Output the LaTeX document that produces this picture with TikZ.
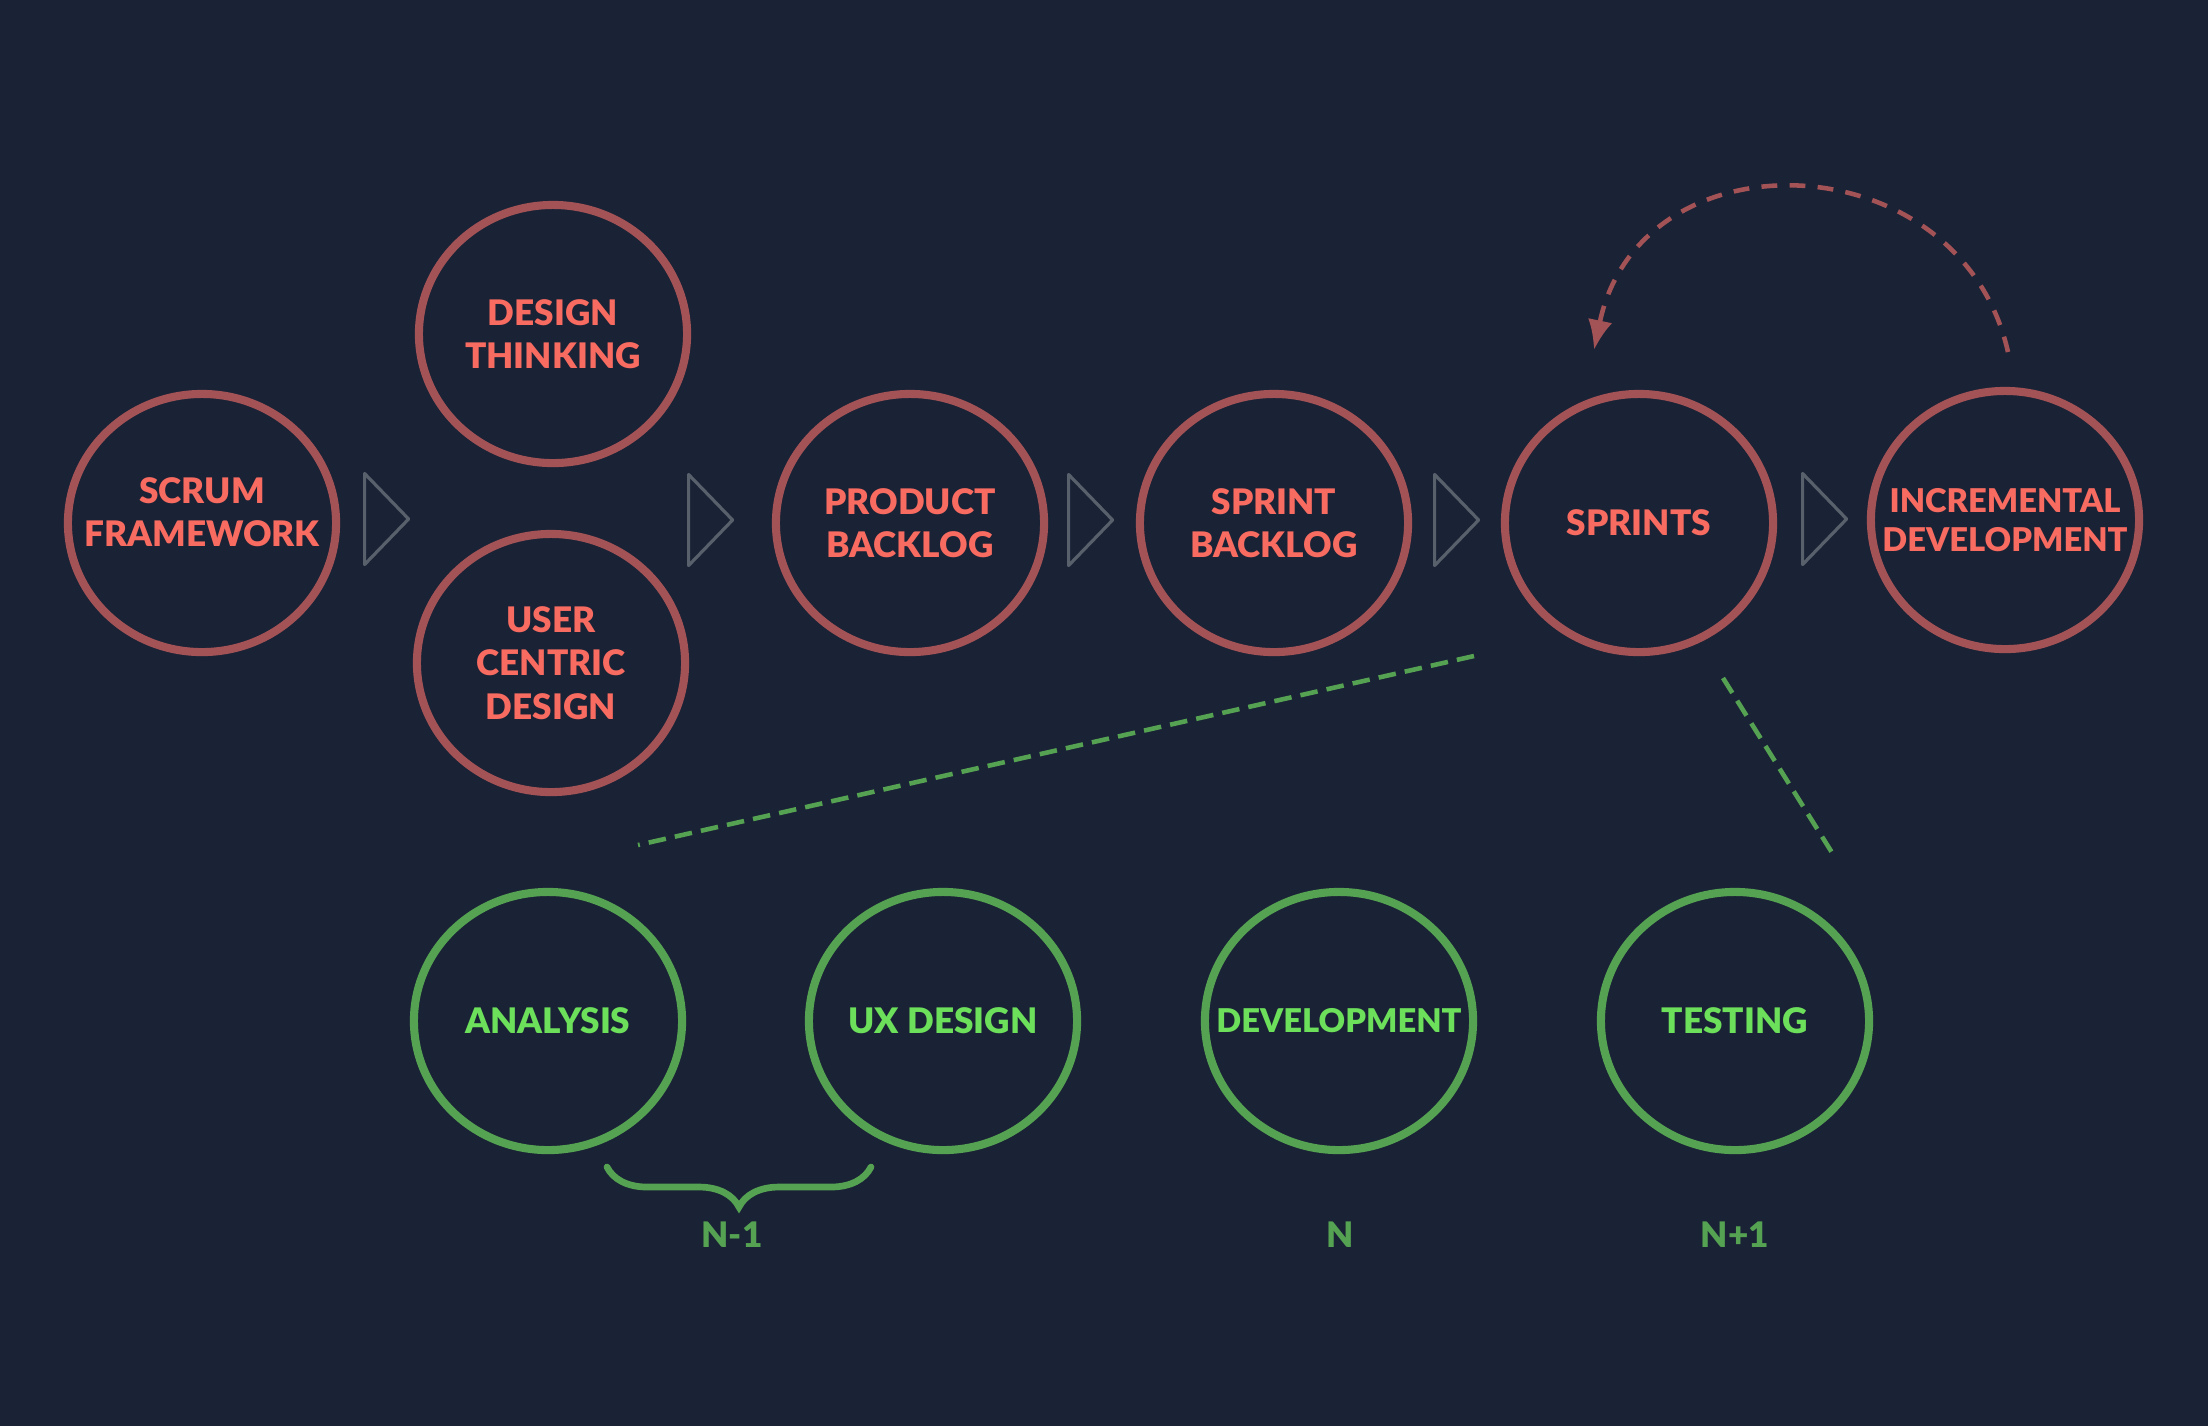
\documentclass[tikz,border=0pt]{standalone}
\usepackage{fontspec}
\setmainfont{Lato}[BoldFont={Lato Black}]
\usepackage{xcolor}
\usetikzlibrary{arrows.meta,positioning,calc,shapes.geometric,decorations.pathreplacing}
\definecolor{night}{HTML}{1A2236}
\definecolor{rosering}{HTML}{A35355}
\definecolor{rosetext}{HTML}{F76B60}
\definecolor{leafring}{HTML}{55A352}
\definecolor{leaftext}{HTML}{6CE05A}
\definecolor{slate}{HTML}{58606C}

\begin{document}
\begin{tikzpicture}[x=0.01cm,y=-0.01cm]
    \tikzset{
      phase/.style={ellipse,draw=rosering,line width=2.3pt,minimum width=2.68cm,minimum height=2.58cm,inner sep=-1cm,align=center,text=rosetext,font=\bfseries\fontsize{10}{12.4}\selectfont},
      task/.style={phase,draw=leafring,text=leaftext},
      chevron/.style={isosceles triangle,isosceles triangle stretches,draw=slate,line width=0.9pt,line join=round,minimum height=0.44cm,minimum width=0.91cm,inner sep=0pt,anchor=west},
      iter/.style={text=leafring,font=\bfseries\fontsize{10}{12}\selectfont},
      zoomline/.style={draw=leafring,line width=1.3pt,dash pattern=on 5pt off 2.6pt},
      loopback/.style={draw=rosering,line width=1.3pt,dash pattern=on 4.5pt off 3.5pt,-{Latex[length=8.5pt,width=7pt]}},
      brace/.style={draw=leafring,line width=1.9pt,line cap=round,decorate,decoration={brace,mirror,amplitude=0.4cm}}
    }
    \fill[night] (0,0) rectangle (2208,1426);
    \node[phase,text depth=0.22cm] (scrum) at (202,523) {SCRUM\\FRAMEWORK};
    \node[phase] (think) at (553,334) {DESIGN\\THINKING};
    \node[phase] (ucd) at (551,663) {USER\\CENTRIC\\DESIGN};
    \node[phase] (product) at (910,523) {PRODUCT\\BACKLOG};
    \node[phase] (sprintlog) at (1274,523) {SPRINT\\BACKLOG};
    \node[phase] (sprints) at (1639,523) {SPRINTS};
    \node[phase,font=\bfseries\fontsize{9.3}{11}\selectfont] (incr) at (2005,520) {INCREMENTAL\\DEVELOPMENT};
    \node[task] (analysis) at (548,1021) {ANALYSIS};
    \node[task] (uxd) at (943,1021) {UX DESIGN};
    \node[task,font=\bfseries\fontsize{9.3}{11}\selectfont] (dev) at (1339,1021) {DEVELOPMENT};
    \node[task] (testing) at (1735,1021) {TESTING};
    \node[chevron] (c1) at (363,519) {};
    \node[chevron] (c2) at (687,520) {};
    \node[chevron] (c3) at (1067,520) {};
    \node[chevron] (c4) at (1433,520) {};
    \node[chevron] (c5) at (1801,519) {};
    \node[iter] (nprev) at (732,1235) {N-1};
    \node[iter] (ncur) at (1340,1235) {N};
    \node[iter] (nnext) at (1735,1235) {N+1};
    \coordinate (loopfrom) at (2008,352);
    \coordinate (loopto) at (1594,350);
    \coordinate (zoomA) at (1474,656);
    \coordinate (zoomB) at (638,845);
    \coordinate (zoomC) at (1723,678);
    \coordinate (zoomD) at (1836,859);
    \coordinate (braceL) at (607,1167);
    \coordinate (braceR) at (871,1167);
    \draw[loopback] (loopfrom) .. controls (1960,140) and (1640,130) .. (loopto);
    \draw[zoomline] (zoomA) -- (zoomB);
    \draw[zoomline] (zoomC) -- (zoomD);
    \draw[brace] (braceL) -- (braceR);
\end{tikzpicture}
\end{document}
